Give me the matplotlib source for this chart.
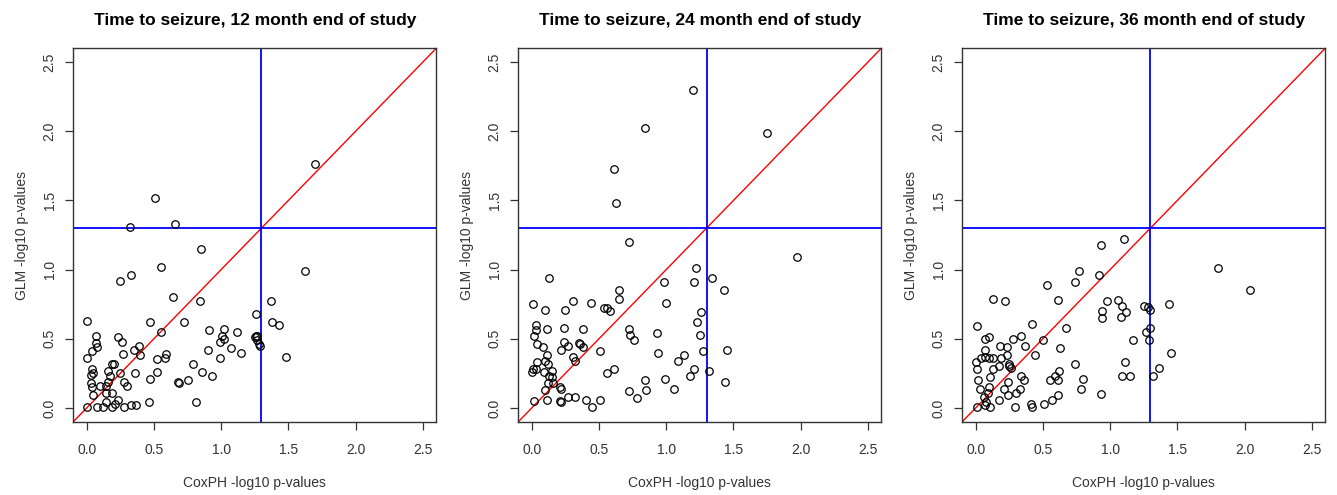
import matplotlib.pyplot as plt

plt.rcParams['font.family'] = ['Liberation Sans', 'DejaVu Sans']

titles = ["Time to seizure, 12 month end of study",
          "Time to seizure, 24 month end of study",
          "Time to seizure, 36 month end of study"]

# CoxPH -log10 p (x) vs GLM -log10 p (y)
cox12 = [0.85, 0.55, 0.33, 0.25, 0.64, 0.84, 0.00, 0.47, 0.72, 1.26, 1.37, 1.38, 1.43, 1.62, 1.48,
         0.07, 0.07, 0.08, 0.04, 0.00, 0.23, 0.26, 0.27, 0.35, 0.39, 0.40, 0.55, 0.59, 0.58, 0.52,
         0.19, 0.20, 0.04, 0.03, 0.05, 0.16, 0.17, 0.25, 0.36, 0.52, 0.47, 0.79, 0.86, 0.93, 0.68,
         0.69, 0.75, 0.91, 1.02, 1.12, 1.01, 1.02, 0.99, 0.90, 1.07, 1.15, 0.99, 1.26, 1.27, 1.27,
         1.28, 1.29, 0.03, 0.10, 0.04, 0.05, 0.14, 0.16, 0.28, 0.30, 0.14, 0.19, 0.23, 0.14, 0.21,
         0.19, 0.08, 0.12, 0.00, 0.28, 0.33, 0.37, 0.46, 0.81, 1.70, 0.51, 0.32, 0.66, 1.25]
glm12 = [1.15, 1.02, 0.96, 0.92, 0.80, 0.77, 0.63, 0.62, 0.62, 0.68, 0.77, 0.62, 0.60, 0.99, 0.37,
         0.52, 0.47, 0.44, 0.41, 0.36, 0.51, 0.48, 0.39, 0.42, 0.45, 0.38, 0.55, 0.39, 0.36, 0.35,
         0.32, 0.32, 0.28, 0.24, 0.25, 0.27, 0.23, 0.25, 0.25, 0.26, 0.21, 0.32, 0.26, 0.23, 0.19,
         0.18, 0.20, 0.56, 0.57, 0.55, 0.52, 0.50, 0.48, 0.42, 0.43, 0.40, 0.36, 0.52, 0.52, 0.49,
         0.46, 0.45, 0.18, 0.16, 0.15, 0.09, 0.16, 0.19, 0.19, 0.16, 0.11, 0.11, 0.06, 0.04, 0.03,
         0.01, 0.01, 0.01, 0.01, 0.01, 0.02, 0.02, 0.04, 0.04, 1.76, 1.52, 1.31, 1.33, 0.51]

cox24 = [1.20, 0.84, 1.75, 0.61, 0.63, 0.72, 1.97, 1.22, 0.98, 1.21, 1.34, 1.43, 1.00, 1.26, 1.23,
         0.93, 1.25, 0.94, 1.13, 1.09, 1.27, 1.45, 1.21, 1.18, 1.32, 1.44, 0.84, 0.99, 0.85, 1.06,
         0.13, 0.65, 0.65, 0.01, 0.10, 0.25, 0.31, 0.44, 0.54, 0.56, 0.58, 0.03, 0.03, 0.02, 0.11,
         0.24, 0.38, 0.72, 0.73, 0.76, 0.04, 0.08, 0.24, 0.27, 0.22, 0.35, 0.36, 0.38, 0.51, 0.11,
         0.31, 0.32, 0.10, 0.04, 0.12, 0.01, 0.00, 0.03, 0.09, 0.15, 0.13, 0.15, 0.12, 0.16, 0.10,
         0.21, 0.22, 0.02, 0.11, 0.21, 0.22, 0.27, 0.32, 0.40, 0.45, 0.51, 0.56, 0.61, 0.72, 0.78]
glm24 = [2.30, 2.02, 1.99, 1.73, 1.48, 1.20, 1.09, 1.01, 0.91, 0.91, 0.94, 0.85, 0.76, 0.69, 0.62,
         0.54, 0.53, 0.40, 0.38, 0.34, 0.41, 0.42, 0.28, 0.23, 0.27, 0.19, 0.20, 0.21, 0.13, 0.14,
         0.94, 0.85, 0.79, 0.75, 0.71, 0.71, 0.77, 0.76, 0.72, 0.72, 0.70, 0.60, 0.56, 0.52, 0.57,
         0.58, 0.57, 0.57, 0.53, 0.49, 0.46, 0.44, 0.48, 0.45, 0.42, 0.47, 0.46, 0.44, 0.41, 0.38,
         0.37, 0.34, 0.34, 0.33, 0.32, 0.28, 0.26, 0.28, 0.26, 0.27, 0.23, 0.22, 0.18, 0.18, 0.13,
         0.15, 0.14, 0.05, 0.06, 0.05, 0.04, 0.08, 0.08, 0.06, 0.01, 0.06, 0.25, 0.28, 0.12, 0.07]

cox36 = [1.10, 0.93, 1.80, 2.04, 0.92, 0.77, 0.98, 1.06, 1.09, 1.12, 0.94, 0.94, 1.08, 1.25, 1.28,
         1.30, 1.44, 1.30, 1.27, 1.29, 1.17, 1.45, 1.11, 1.36, 1.09, 1.15, 1.32, 0.80, 0.78, 0.93,
         0.74, 0.53, 0.13, 0.22, 0.61, 0.01, 0.42, 0.67, 0.07, 0.10, 0.28, 0.34, 0.50, 0.18, 0.23,
         0.37, 0.63, 0.07, 0.07, 0.10, 0.13, 0.19, 0.23, 0.04, 0.00, 0.01, 0.13, 0.17, 0.25, 0.25,
         0.26, 0.44, 0.74, 0.02, 0.11, 0.34, 0.36, 0.24, 0.55, 0.59, 0.62, 0.61, 0.03, 0.10, 0.21,
         0.33, 0.30, 0.24, 0.09, 0.06, 0.17, 0.08, 0.07, 0.11, 0.01, 0.29, 0.41, 0.42, 0.51, 0.57, 0.61]
glm36 = [1.22, 1.18, 1.01, 0.85, 0.96, 0.99, 0.77, 0.78, 0.74, 0.69, 0.70, 0.65, 0.66, 0.74, 0.73,
         0.71, 0.75, 0.58, 0.55, 0.49, 0.49, 0.40, 0.33, 0.29, 0.23, 0.23, 0.23, 0.21, 0.14, 0.10,
         0.91, 0.89, 0.79, 0.77, 0.78, 0.59, 0.61, 0.58, 0.50, 0.51, 0.50, 0.52, 0.49, 0.45, 0.44,
         0.45, 0.43, 0.42, 0.37, 0.36, 0.36, 0.36, 0.38, 0.36, 0.33, 0.28, 0.28, 0.30, 0.32, 0.30,
         0.29, 0.38, 0.32, 0.20, 0.22, 0.23, 0.20, 0.19, 0.20, 0.23, 0.27, 0.20, 0.14, 0.15, 0.14,
         0.14, 0.11, 0.09, 0.11, 0.08, 0.06, 0.04, 0.02, 0.01, 0.01, 0.01, 0.03, 0.01, 0.03, 0.06, 0.09]

ticks = [0.0, 0.5, 1.0, 1.5, 2.0, 2.5]
cutoff = 1.3

panels = [(cox12, glm12), (cox24, glm24), (cox36, glm36)]
lefts = [0.0548, 0.3877, 0.7197]

fig = plt.figure(figsize=(13.37, 4.95), dpi=100)

for i, (xs, ys) in enumerate(panels):
    ax = fig.add_axes([lefts[i], 0.148, 0.2715, 0.7545])
    ax.set_xlim(-0.1, 2.6)
    ax.set_ylim(-0.1, 2.6)
    ax.plot([-0.1, 2.6], [-0.1, 2.6], color='red', lw=1)
    ax.axvline(cutoff, color='blue', lw=1.3)
    ax.axhline(cutoff, color='blue', lw=1.3)
    ax.plot(xs, ys, 'o', mfc='none', mec='black', ms=5.4, mew=0.9)
    ax.set_xticks(ticks)
    ax.set_yticks(ticks)
    ax.set_xticklabels([f"{t:.1f}" for t in ticks])
    ax.set_yticklabels([f"{t:.1f}" for t in ticks], rotation=90, va='center')
    ax.tick_params(length=6, width=0.9, labelsize=10, colors='#333333')
    ax.tick_params(axis='x', pad=9)
    ax.tick_params(axis='y', pad=6)
    for s in ax.spines.values():
        s.set_color('#333333')
        s.set_linewidth(1)
    ax.set_xlabel("CoxPH -log10 p-values", fontsize=10, color='#333333', labelpad=14)
    ax.set_ylabel("GLM -log10 p-values", fontsize=10, color='#333333', labelpad=10)
    ax.set_title(titles[i], fontsize=12.5, fontweight='bold', pad=17)

fig.savefig("out.png", dpi=100)
